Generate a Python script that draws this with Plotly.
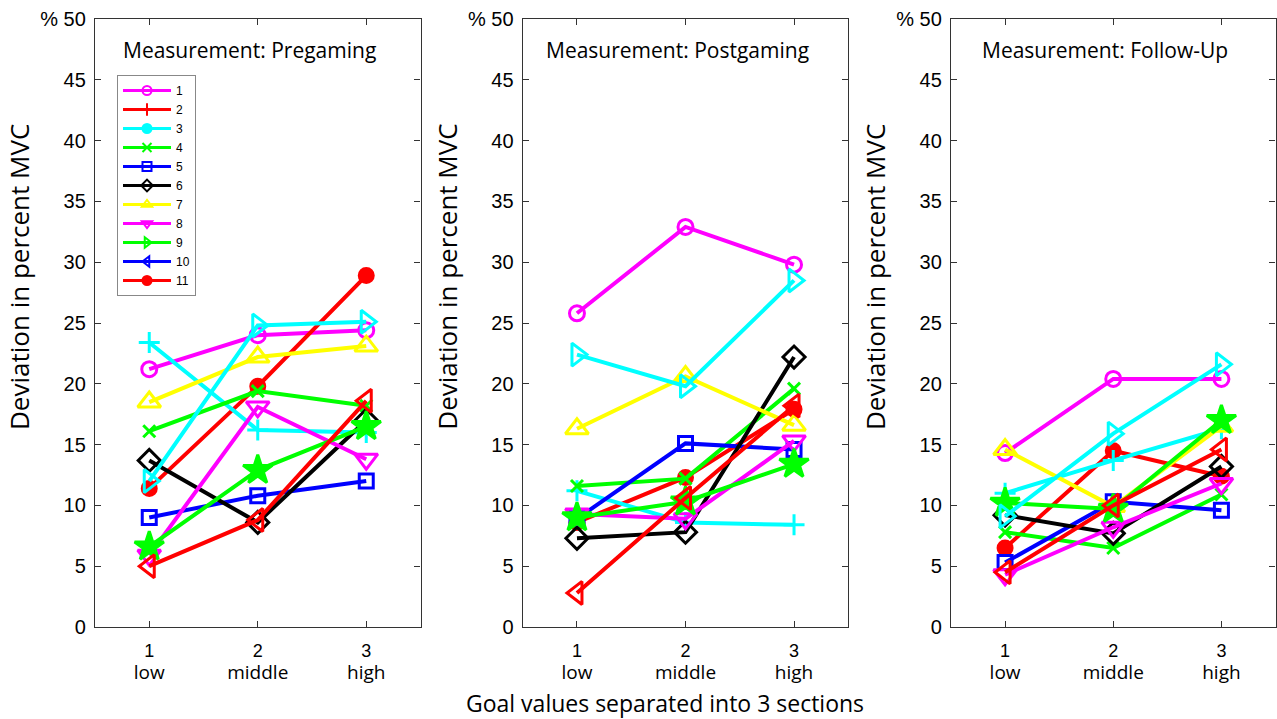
import plotly.graph_objects as go

# ---------------- data ----------------
sections = [1, 2, 3]
section_labels = ["low", "middle", "high"]
panel_titles = ["Measurement: Pregaming", "Measurement: Postgaming", "Measurement: Follow-Up"]
y_ticks = [0, 5, 10, 15, 20, 25, 30, 35, 40, 45, 50]
y_ticktext = ["0", "5", "10", "15", "20", "25", "30", "35", "40", "45", "% 50"]
legend_names = ["1", "2", "3", "4", "5", "6", "7", "8", "9", "10", "11"]

# series values per panel (pregaming, postgaming, follow-up), drawn in this order
s01_pre = [21.2, 24.0, 24.4]; s01_post = [25.8, 32.9, 29.8]; s01_fu = [14.3, 20.4, 20.4]
s02_pre = [11.4, 19.8, 28.9]; s02_post = [8.6, 12.3, 17.9]; s02_fu = [6.5, 14.5, 12.4]
s03_pre = [23.4, 16.2, 16.0]; s03_post = [11.2, 8.6, 8.4]; s03_fu = [11.0, 13.7, 16.3]
s04_pre = [16.1, 19.4, 18.2]; s04_post = [11.6, 12.2, 19.6]; s04_fu = [7.8, 6.5, 10.9]
s05_pre = [9.0, 10.8, 12.0]; s05_post = [8.9, 15.1, 14.6]; s05_fu = [5.3, 10.3, 9.6]
s06_pre = [13.7, 8.6, 17.0]; s06_post = [7.3, 7.8, 22.2]; s06_fu = [9.2, 7.7, 13.2]
s07_pre = [18.5, 22.2, 23.1]; s07_post = [16.3, 20.6, 16.6]; s07_fu = [14.6, 9.9, 16.5]
s08_pre = [5.9, 18.1, 13.8]; s08_post = [9.3, 8.9, 15.3]; s08_fu = [4.3, 8.2, 11.8]
s09_pre = [6.6, 12.9, 16.5]; s09_post = [9.0, 10.3, 13.4]; s09_fu = [10.2, 9.7, 17.0]
s10_pre = [12.0, 24.8, 25.1]; s10_post = [22.4, 19.8, 28.5]; s10_fu = [9.1, 15.9, 21.6]
s11_pre = [5.0, 8.8, 18.6]; s11_post = [2.8, 10.6, 18.2]; s11_fu = [4.5, 10.0, 14.6]

series = [
    (s01_pre, s01_post, s01_fu),
    (s02_pre, s02_post, s02_fu),
    (s03_pre, s03_post, s03_fu),
    (s04_pre, s04_post, s04_fu),
    (s05_pre, s05_post, s05_fu),
    (s06_pre, s06_post, s06_fu),
    (s07_pre, s07_post, s07_fu),
    (s08_pre, s08_post, s08_fu),
    (s09_pre, s09_post, s09_fu),
    (s10_pre, s10_post, s10_fu),
    (s11_pre, s11_post, s11_fu),
]

# ---------------- styles ----------------
MAG, RED, CYA, GRN, BLU, BLK, YEL = "#FF00FF", "#FF0000", "#00FFFF", "#00FF00", "#0000FF", "#000000", "#FFFF00"
plot_styles = [
    (MAG, "circle-open", 15),
    (RED, "circle", 14),
    (CYA, "cross-thin-open", 15),
    (GRN, "x-thin-open", 12),
    (BLU, "square-open", 14),
    (BLK, "diamond-open", 17),
    (YEL, "triangle-up-open", 20),
    (MAG, "triangle-down-open", 20),
    (GRN, "star", 22),
    (CYA, "triangle-right-open", 20),
    (RED, "triangle-left-open", 20),
]
legend_styles = [
    (MAG, "circle-open"), (RED, "cross-thin-open"), (CYA, "circle"), (GRN, "x-thin-open"),
    (BLU, "square-open"), (BLK, "diamond-open"), (YEL, "triangle-up-open"),
    (MAG, "triangle-down-open"), (GRN, "triangle-right-open"), (BLU, "triangle-left-open"),
    (RED, "circle"),
]

W, H = 1277, 719
x_doms = [(95, 420.5), (522.7, 848.3), (951, 1275.5)]
y_top, y_bot = 19, 627
ydom = [1 - y_bot / H, 1 - y_top / H]

fig = go.Figure()
TICKFONT = dict(family="Liberation Sans, Arial, sans-serif", size=20, color="#000")
XTICKFONT = dict(family="Liberation Sans, Arial, sans-serif", size=17, color="#000")
CAL = "Open Sans, sans-serif"

for p in range(3):
    xa = "x" if p == 0 else f"x{p+1}"
    ya = "y" if p == 0 else f"y{p+1}"
    for (vals, (col, sym, sz)) in zip(series, plot_styles):
        fig.add_trace(go.Scatter(
            x=sections, y=vals[p], xaxis=xa, yaxis=ya, mode="lines+markers",
            line=dict(color=col, width=4),
            marker=dict(symbol=sym, size=sz, color=col, line=dict(color=col, width=3)),
            showlegend=False, hoverinfo="skip", cliponaxis=False,
        ))

# legend entries (as in the reference legend)
for name, (col, sym) in zip(legend_names, legend_styles):
    fig.add_trace(go.Scatter(
        x=[None], y=[None], mode="lines+markers", name=name,
        line=dict(color=col, width=3),
        marker=dict(symbol=sym, size=9, color=col, line=dict(color=col, width=2)),
    ))

layout = dict(
    width=W, height=H, margin=dict(l=0, r=0, t=0, b=0, autoexpand=False),
    paper_bgcolor="white", plot_bgcolor="white", showlegend=True,
    legend=dict(x=117 / W, y=1 - 75 / H, xanchor="left", yanchor="top",
                bgcolor="white", bordercolor="#888", borderwidth=1,
                font=dict(family="Liberation Sans, Arial, sans-serif", size=12, color="#000"),
                tracegroupgap=0, itemwidth=48),
)
annotations = []
xt_text = [f"<span style='font-size:18px'>{s}</span><br><span style='font-family:Open Sans;font-size:19px'>{l}</span>"
           for s, l in zip(sections, section_labels)]
for p in range(3):
    x0, x1 = x_doms[p]
    key = "" if p == 0 else str(p + 1)
    layout["xaxis" + key] = dict(
        domain=[x0 / W, x1 / W], range=[0.5, 3.5], anchor="y" + key,
        tickvals=sections, ticktext=xt_text, ticks="inside", ticklen=6,
        showline=True, linecolor="#333", linewidth=1.3, mirror="ticks",
        showgrid=False, zeroline=False, tickfont=XTICKFONT, tickcolor="#333",
        automargin=False, ticklabelstandoff=8,
    )
    layout["yaxis" + key] = dict(
        domain=ydom, range=[0, 50], anchor="x" + key,
        tickvals=y_ticks, ticktext=y_ticktext, ticks="inside", ticklen=6,
        showline=True, linecolor="#333", linewidth=1.3, mirror="ticks",
        showgrid=False, zeroline=False, tickfont=TICKFONT, tickcolor="#333",
        ticklabelstandoff=4, automargin=False,
    )
    annotations.append(dict(
        text=panel_titles[p], x=(x0 + x1) / 2 / W - 8 / W, y=1 - 50 / H,
        xref="paper", yref="paper", showarrow=False, xanchor="center", yanchor="middle",
        font=dict(family=CAL, size=21, color="#000"),
    ))
    annotations.append(dict(
        text="Deviation in percent MVC", x=(x0 - 76) / W, y=1 - 277 / H,
        xref="paper", yref="paper", showarrow=False, xanchor="center", yanchor="middle",
        textangle=-90, font=dict(family=CAL, size=26, color="#000"),
    ))
annotations.append(dict(
    text="Goal values separated into 3 sections", x=665 / W, y=1 - 703 / H,
    xref="paper", yref="paper", showarrow=False, xanchor="center", yanchor="middle",
    font=dict(family=CAL, size=23, color="#000"),
))
layout["annotations"] = annotations
fig.update_layout(**layout)

fig.write_html("out.html", config={"displayModeBar": False},
               post_script="document.body.style.margin='0';document.body.style.overflow='hidden';")
